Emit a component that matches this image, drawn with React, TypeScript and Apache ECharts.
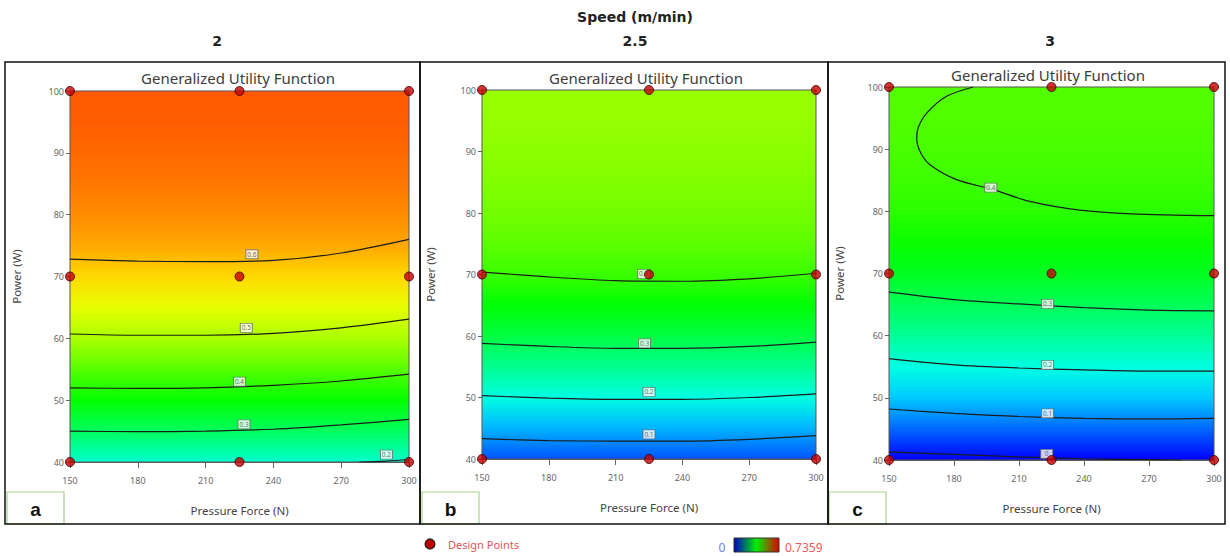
import React, { useEffect, useRef } from 'react';
import * as echarts from 'echarts';

// ---------- data ----------
const speeds = ['2', '2.5', '3'];
const panelLetters = ['a', 'b', 'c'];
const powerLevels = [40, 45, 50, 55, 60, 65, 70, 75, 80, 85, 90, 95, 100];
const utilA = [0.22, 0.3, 0.37, 0.43, 0.49, 0.535, 0.58, 0.615, 0.635, 0.65, 0.66, 0.668, 0.672];
const utilB = [0.06, 0.13, 0.205, 0.265, 0.32, 0.365, 0.41, 0.435, 0.45, 0.46, 0.47, 0.475, 0.478];
const utilC = [0.0, 0.075, 0.145, 0.205, 0.26, 0.305, 0.345, 0.375, 0.398, 0.412, 0.42, 0.425, 0.427];
const utilMin = 0;
const utilMax = 0.7359;

const designPoints = [
  [150, 40], [225, 40], [300, 40],
  [150, 70], [225, 70], [300, 70],
  [150, 100], [225, 100], [300, 100],
];

const contoursA = [
  { level: '0.6', pts: [[150, 72.8], [180, 72.5], [210, 72.4], [240, 72.6], [270, 73.8], [300, 76.0]] },
  { level: '0.5', pts: [[150, 60.7], [180, 60.5], [210, 60.5], [240, 60.8], [270, 61.7], [300, 63.1]] },
  { level: '0.4', pts: [[150, 52.0], [180, 51.9], [210, 52.0], [240, 52.4], [270, 53.1], [300, 54.2]] },
  { level: '0.3', pts: [[150, 45.0], [180, 44.9], [210, 45.0], [240, 45.3], [270, 46.0], [300, 46.9]] },
  { level: '0.2', pts: [[278, 40.0], [290, 40.15], [300, 40.4]] },
];
const labelsA = [[230.5, 73.6, '0.6'], [228, 61.7, '0.5'], [225, 53.0, '0.4'], [227, 46.1, '0.3'], [290, 41.2, '0.2']];

const contoursB = [
  { level: '0.4', pts: [[150, 70.4], [180, 69.6], [210, 69.0], [240, 68.9], [270, 69.3], [300, 70.2]] },
  { level: '0.3', pts: [[150, 58.8], [180, 58.3], [210, 58.0], [240, 58.0], [270, 58.3], [300, 59.0]] },
  { level: '0.2', pts: [[150, 50.3], [180, 49.9], [210, 49.7], [240, 49.7], [270, 50.0], [300, 50.6]] },
  { level: '0.1', pts: [[150, 43.3], [180, 43.0], [210, 42.9], [240, 42.9], [270, 43.2], [300, 43.8]] },
];
const labelsB = [[222.6, 70.1, '0.4'], [223, 58.8, '0.3'], [225, 50.9, '0.2'], [225, 44.0, '0.1']];

const contoursC = [
  {
    level: '0.4',
    pts: [[188.9, 100], [176.6, 98.5], [167.4, 95.8], [163.5, 93.5], [162.8, 91.8], [164.5, 89.5], [168.9, 87.5],
      [181.2, 85.1], [198, 83.5], [215, 81.6], [238, 80.2], [262, 79.6], [300, 79.3]],
  },
  { level: '0.3', pts: [[150, 67.0], [180, 65.8], [210, 65.1], [240, 64.5], [270, 64.1], [300, 64.0]] },
  { level: '0.2', pts: [[150, 56.3], [180, 55.3], [210, 54.8], [240, 54.5], [270, 54.3], [300, 54.3]] },
  { level: '0.1', pts: [[150, 48.2], [180, 47.5], [210, 47.0], [240, 46.7], [270, 46.6], [300, 46.7]] },
  { level: '0', pts: [[150, 41.3], [180, 40.9], [210, 40.5], [240, 40.2], [270, 40.05], [285, 40.0]] },
];
const labelsC = [[197, 83.8, '0.4'], [223.2, 65.1, '0.3'], [223.2, 55.3, '0.2'], [223.2, 47.5, '0.1'], [222.8, 41.0, '0']];

const panelUtil = [utilA, utilB, utilC];
const panelContours = [contoursA, contoursB, contoursC];
const panelLabels = [labelsA, labelsB, labelsC];

// ---------- styling / layout ----------
const grids = [
  { left: 70, top: 91, width: 339, height: 371 },
  { left: 482, top: 90, width: 334, height: 369 },
  { left: 889, top: 87, width: 325, height: 373 },
];
const panelBoxes = [
  { x: 5, w: 415, title: 238, titleY: 78, head: 217, letterX: 7 },
  { x: 420, w: 408, title: 646, titleY: 78, head: 635, letterX: 422 },
  { x: 828, w: 397, title: 1048, titleY: 75, head: 1050, letterX: 829 },
];
const yNameGap = [48, 46, 44];

const cmapStops: [number, number[]][] = [
  [0, [0, 0, 255]],
  [0.25, [0, 255, 255]],
  [0.5, [0, 255, 0]],
  [0.75, [255, 255, 0]],
  [1, [255, 0, 0]],
];
function colorOf(v: number) {
  const t = Math.max(0, Math.min(1, (v - utilMin) / (utilMax - utilMin)));
  for (let i = 0; i < cmapStops.length - 1; i++) {
    const [t0, c0] = cmapStops[i];
    const [t1, c1] = cmapStops[i + 1];
    if (t <= t1) {
      const f = (t - t0) / (t1 - t0);
      const c = c0.map((a, k) => Math.round(a + (c1[k] - a) * f));
      return `rgb(${c[0]},${c[1]},${c[2]})`;
    }
  }
  return 'rgb(255,0,0)';
}

const FONT = '"Noto Sans", "Open Sans", sans-serif';

function txt(text: string, x: number, y: number, font: string, fill: string, align = 'center', z = 12) {
  return {
    type: 'text',
    x,
    y,
    z,
    style: {
      text,
      font,
      fill,
      align,
      verticalAlign: 'middle',
      textAlign: align,
      textVerticalAlign: 'middle',
    },
  };
}

export default function App() {
  const ref = useRef<HTMLDivElement>(null);
  useEffect(() => {
    if (!ref.current) return;
    const chart = echarts.init(ref.current, undefined, { renderer: 'svg' });

    const xAxis: any[] = [];
    const yAxis: any[] = [];
    const series: any[] = [];

    grids.forEach((g, i) => {
      xAxis.push({
        gridIndex: i,
        type: 'value',
        min: 150,
        max: 300,
        interval: 30,
        name: 'Pressure Force (N)',
        nameLocation: 'middle',
        nameGap: 42,
        nameTextStyle: { fontSize: 11.5, color: '#444', fontFamily: FONT },
        axisLine: { show: true, lineStyle: { color: '#666', width: 1 } },
        axisTick: { show: true, length: 6, lineStyle: { color: '#666' } },
        axisLabel: { fontSize: 9, color: '#666', margin: 14, fontFamily: FONT },
        splitLine: { show: false },
      });
      yAxis.push({
        gridIndex: i,
        type: 'value',
        min: 40,
        max: 100,
        interval: 10,
        name: 'Power (W)',
        nameLocation: 'middle',
        nameGap: yNameGap[i],
        nameTextStyle: { fontSize: 11.5, color: '#444', fontFamily: FONT },
        axisLine: { show: true, lineStyle: { color: '#666', width: 1 } },
        axisTick: { show: true, length: 4, lineStyle: { color: '#666' } },
        axisLabel: { fontSize: 9, color: '#666', margin: 6, fontFamily: FONT },
        splitLine: { show: false },
      });

      const util = panelUtil[i];
      const colorStops = powerLevels
        .map((p, j) => ({ offset: (100 - p) / 60, color: colorOf(util[j]) }))
        .sort((a, b) => a.offset - b.offset);

      series.push({
        type: 'custom',
        xAxisIndex: i,
        yAxisIndex: i,
        silent: true,
        z: 1,
        data: [[150, 40, 300, 100]],
        renderItem: (params: any, api: any) => {
          const p0 = api.coord([api.value(0), api.value(3)]);
          const p1 = api.coord([api.value(2), api.value(1)]);
          return {
            type: 'rect',
            shape: { x: p0[0], y: p0[1], width: p1[0] - p0[0], height: p1[1] - p0[1] },
            style: {
              fill: { type: 'linear', x: 0, y: 0, x2: 0, y2: 1, colorStops, global: false },
              stroke: '#555',
              lineWidth: 1,
            },
          };
        },
      });

      panelContours[i].forEach((c) => {
        series.push({
          type: 'line',
          name: 'contour ' + c.level,
          xAxisIndex: i,
          yAxisIndex: i,
          data: c.pts,
          smooth: 0.3,
          showSymbol: false,
          symbol: 'none',
          silent: true,
          z: 3,
          lineStyle: { color: '#1c1c1c', width: 1.2 },
        });
      });

      series.push({
        type: 'scatter',
        xAxisIndex: i,
        yAxisIndex: i,
        silent: true,
        z: 4,
        symbol: 'rect',
        symbolSize: [12, 9],
        data: panelLabels[i],
        itemStyle: { color: '#ffffff', borderColor: '#666', borderWidth: 0.9 },
        label: {
          show: true,
          position: 'inside',
          formatter: (p: any) => p.value[2],
          fontSize: 6.5,
          color: '#444',
          fontFamily: FONT,
        },
      });

      series.push({
        type: 'scatter',
        name: 'Design Points',
        xAxisIndex: i,
        yAxisIndex: i,
        z: 5,
        symbolSize: 9,
        data: designPoints,
        itemStyle: { color: '#c40000', borderColor: '#3a0000', borderWidth: 1 },
      });
    });

    const graphic: any[] = [];
    graphic.push(txt('Speed (m/min)', 635, 17, 'bold 14px "DejaVu Sans"', '#222'));
    panelBoxes.forEach((b, i) => {
      graphic.push(txt(speeds[i], b.head, 41, 'bold 14px "DejaVu Sans"', '#222'));
      graphic.push({
        type: 'rect',
        shape: { x: b.x, y: 62, width: b.w, height: 462 },
        style: { fill: 'none', stroke: '#111', lineWidth: 1.5 },
        z: 10,
      });
      graphic.push(txt('Generalized Utility Function', b.title, b.titleY, '15px "Noto Sans"', '#3c3c3c'));
      graphic.push({
        type: 'rect',
        shape: { x: b.letterX, y: 492, width: 57, height: 32 },
        style: { fill: '#fff', stroke: '#a9d18e', lineWidth: 1.2 },
        z: 9,
      });
      graphic.push(txt(panelLetters[i], b.letterX + 28.5, 509, 'bold 19px "Liberation Sans"', '#111'));
    });
    // legend: design points
    graphic.push({
      type: 'circle',
      shape: { cx: 430, cy: 544, r: 5 },
      style: { fill: '#c00000', stroke: '#222', lineWidth: 1.2 },
    });
    graphic.push(txt('Design Points', 448, 544, '11px "Noto Sans"', '#e05555', 'left'));
    // colour bar legend
    graphic.push(txt('0', 722, 547, '12px "Noto Sans"', '#6f7df0'));
    graphic.push({
      type: 'rect',
      shape: { x: 734, y: 538, width: 45, height: 14 },
      style: {
        fill: {
          type: 'linear', x: 0, y: 0, x2: 1, y2: 0, global: false,
          colorStops: [
            { offset: 0, color: '#0000c8' },
            { offset: 0.5, color: '#00f000' },
            { offset: 1, color: '#e00000' },
          ],
        },
        stroke: '#333',
        lineWidth: 1,
      },
    });
    graphic.push(txt(String(utilMax), 785, 547, '12px "Noto Sans"', '#f05a5a', 'left'));

    chart.setOption({
      animation: false,
      backgroundColor: '#ffffff',
      textStyle: { fontFamily: FONT },
      grid: grids.map((g) => ({ ...g, containLabel: false })),
      xAxis,
      yAxis,
      series,
      graphic,
    });
    return () => chart.dispose();
  }, []);
  return (
    <div
      ref={ref}
      style={{ position: 'fixed', left: 0, top: 0, width: 1230, height: 556 }}
    />
  );
}
